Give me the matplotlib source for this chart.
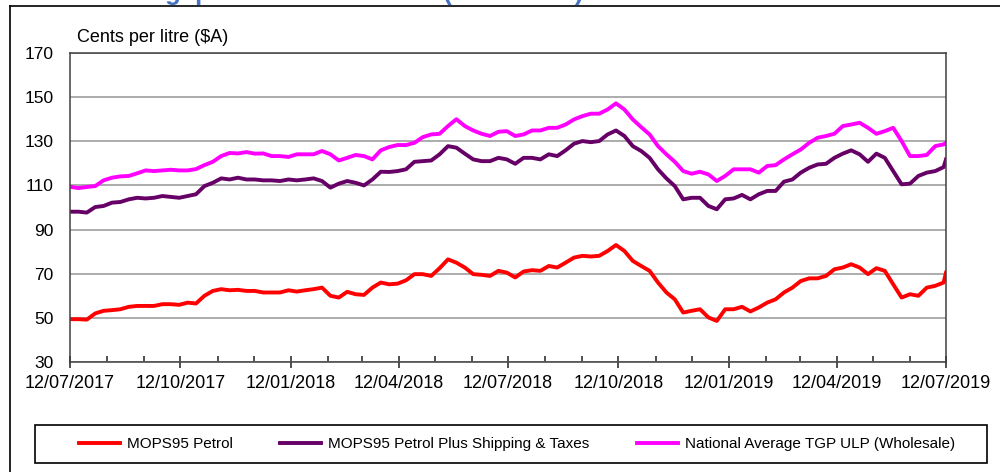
import matplotlib
matplotlib.use("Agg")
import matplotlib.pyplot as plt
import matplotlib.dates as mdates
from matplotlib.lines import Line2D
from matplotlib.patches import Rectangle
import pandas as pd

plt.rcParams['font.family'] = ['Liberation Sans', 'DejaVu Sans']

# Weekly readings from 12/07/2017, plus the final day 12/07/2019
dates = pd.date_range('2017-07-12', periods=105, freq='7D').append(pd.DatetimeIndex(['2019-07-12']))

mops95 = [49.4, 49.4, 49.2, 52.0, 53.2, 53.5, 53.9, 55.0, 55.4, 55.4,
          55.4, 56.2, 56.2, 55.9, 56.9, 56.5, 60.0, 62.2, 63.0, 62.5,
          62.7, 62.2, 62.2, 61.5, 61.5, 61.5, 62.5, 61.9, 62.5, 63.0,
          63.7, 60.0, 59.2, 61.8, 60.7, 60.4, 63.7, 66.0, 65.2, 65.5,
          67.0, 69.8, 69.8, 69.0, 72.5, 76.5, 75.0, 72.8, 69.8, 69.5,
          69.0, 71.3, 70.5, 68.3, 71.0, 71.6, 71.3, 73.5, 72.8, 75.0,
          77.3, 78.1, 77.8, 78.1, 80.3, 83.0, 80.3, 75.8, 73.5, 71.3,
          66.0, 61.5, 58.4, 52.4, 53.2, 53.9, 50.2, 48.6, 53.9, 53.9,
          55.0, 52.9, 54.7, 56.9, 58.4, 61.5, 63.7, 66.7, 67.9, 67.9,
          69.0, 72.0, 72.8, 74.3, 72.8, 69.8, 72.5, 71.3, 65.2, 59.2,
          60.7, 60.0, 63.7, 64.5, 66.0, 70.5]

mops95_plus = [98.1, 98.1, 97.7, 100.2, 100.7, 102.2, 102.5, 103.7, 104.4, 104.1,
               104.4, 105.2, 104.8, 104.4, 105.2, 106.0, 109.7, 111.2, 113.2, 112.7,
               113.5, 112.7, 112.7, 112.3, 112.3, 112.0, 112.7, 112.3, 112.7, 113.2,
               112.0, 109.0, 110.8, 112.0, 111.2, 110.0, 112.7, 116.2, 116.1, 116.5,
               117.3, 120.7, 121.0, 121.3, 124.1, 127.8, 127.1, 124.4, 121.8, 121.0,
               121.0, 122.5, 121.8, 119.8, 122.5, 122.5, 121.8, 124.1, 123.3, 125.9,
               128.9, 130.1, 129.6, 130.1, 133.1, 134.9, 132.4, 127.8, 125.6, 122.5,
               117.3, 113.2, 109.7, 103.7, 104.4, 104.4, 100.7, 99.2, 103.7, 104.1,
               105.7, 103.7, 106.0, 107.5, 107.5, 111.7, 112.7, 115.8, 118.0, 119.5,
               119.8, 122.5, 124.4, 125.9, 124.1, 120.7, 124.4, 122.5, 116.5, 110.5,
               110.8, 114.3, 115.8, 116.5, 118.3, 121.8]

tgp_ulp = [109.4, 108.8, 109.3, 109.7, 112.3, 113.5, 114.1, 114.3, 115.5, 116.8,
           116.5, 116.8, 117.1, 116.8, 116.8, 117.4, 119.2, 120.7, 123.3, 124.7,
           124.5, 125.1, 124.4, 124.5, 123.3, 123.3, 122.9, 124.1, 124.1, 124.1,
           125.6, 124.1, 121.3, 122.5, 123.8, 123.3, 121.8, 125.9, 127.4, 128.3,
           128.3, 129.3, 131.9, 133.1, 133.4, 136.9, 140.0, 136.9, 134.9, 133.4,
           132.4, 134.3, 134.6, 132.4, 133.1, 134.9, 134.9, 136.1, 136.1, 137.6,
           139.9, 141.4, 142.5, 142.5, 144.4, 147.2, 144.4, 139.9, 136.4, 133.1,
           127.8, 124.1, 120.7, 116.5, 115.3, 116.2, 115.0, 112.0, 114.3, 117.3,
           117.3, 117.3, 115.8, 118.8, 119.2, 121.8, 124.1, 126.3, 129.3, 131.6,
           132.4, 133.4, 136.9, 137.6, 138.4, 136.1, 133.4, 134.6, 136.1, 130.1,
           123.3, 123.3, 123.8, 127.8, 128.6, 129.3]

series_names = ['MOPS95 Petrol', 'MOPS95 Petrol Plus Shipping & Taxes',
                'National Average TGP ULP (Wholesale)']
series_colors = ['#FF0000', '#660066', '#FF00FF']
y_ticks = [30, 50, 70, 90, 110, 130, 150, 170]

W, H = 1000, 472
fig = plt.figure(figsize=(W / 100, H / 100), dpi=100)
ax = fig.add_axes([70 / W, 1 - 362 / H, (946 - 70) / W, (362 - 53) / H])

for vals, name, col in zip([mops95, mops95_plus, tgp_ulp], series_names, series_colors):
    ax.plot(dates, vals, color=col, lw=2.8, label=name, solid_joinstyle='round')

ax.set_ylim(30, 170)
ax.set_yticks(y_ticks)
ax.set_xlim(pd.Timestamp('2017-07-12'), pd.Timestamp('2019-07-12'))
ax.xaxis.set_major_locator(mdates.MonthLocator(bymonth=[1, 4, 7, 10], bymonthday=12))
ax.xaxis.set_minor_locator(mdates.MonthLocator(bymonthday=12))
ax.xaxis.set_major_formatter(mdates.DateFormatter('%d/%m/%Y'))

ax.grid(axis='y', color='#a6a6a6', lw=1.3)
ax.set_axisbelow(True)
for s in ax.spines.values():
    s.set_color('#404040')
    s.set_linewidth(1.1)

ax.tick_params(axis='y', length=0, pad=12, labelsize=12.5, labelcolor='black')
ax.tick_params(axis='x', which='major', direction='inout', length=8, width=1.1,
               color='#202020', pad=5, labelsize=13)
ax.tick_params(axis='x', which='minor', direction='in', length=4, width=1.1, color='#202020')

fig.text(77 / W, 1 - 42 / H, 'Cents per litre ($A)', fontsize=13, va='baseline', ha='left')

# cut-off blue title at very top (only its lower edge is visible in the reference)
fig.text(125 / W, 1.0, 'Singapore and Australian (wholesale)', color='#4472C4',
         fontsize=18.5, fontweight='bold', va='baseline', ha='left')

# outer chart frame
fig.add_artist(Line2D([10 / W, 1.0], [1 - 6 / H, 1 - 6 / H], transform=fig.transFigure,
                      color='black', lw=1.2))
fig.add_artist(Line2D([10 / W, 10 / W], [1 - 6 / H, 0.0], transform=fig.transFigure,
                      color='black', lw=1.2))

# legend box
fig.add_artist(Rectangle((35 / W, 1 - 463 / H), (987 - 35) / W, (463 - 425) / H,
                         transform=fig.transFigure, fill=False, edgecolor='black', lw=1.2))
handles, labels = ax.get_legend_handles_labels()
fig.legend(handles, labels, loc='center', bbox_to_anchor=(517 / W, 1 - 444 / H),
           ncol=3, frameon=False, fontsize=11, handlelength=2.7, handletextpad=0.45,
           columnspacing=3.1)

fig.savefig('out.png', dpi=100)
